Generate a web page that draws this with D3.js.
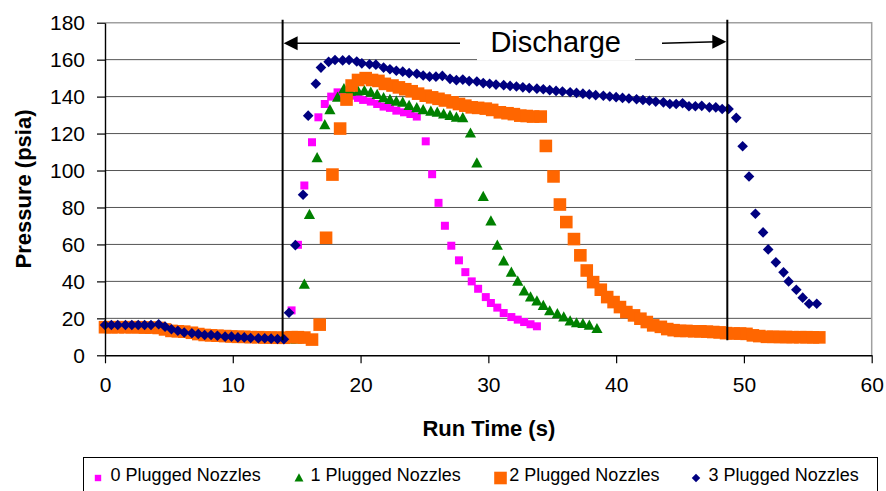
<!DOCTYPE html>
<html>
<head>
<meta charset="utf-8">
<script src="https://cdn.jsdelivr.net/npm/d3@7"></script>
<style>
  body { margin: 0; background: #fff; }
  svg { display: block; font-family: "Liberation Sans", Arial, sans-serif; }
</style>
</head>
<body>
<div id="chart"></div>
<script>
// Run time (s) vs pressure (psia)
const plugged0 = [
  [0.0, 14.6], [0.5, 14.6], [1.0, 14.6], [1.6, 14.5], [2.1, 14.5], [2.6, 14.4], [3.1, 14.3], [3.6, 14.2],
  [4.2, 14.0], [4.7, 13.4], [5.2, 12.8], [5.7, 12.4], [6.2, 12.0], [6.8, 11.6], [7.3, 11.2], [7.8, 10.8],
  [8.3, 10.5], [8.8, 10.3], [9.4, 10.1], [9.9, 9.9], [10.4, 9.8], [10.9, 9.7], [11.4, 9.6], [12.0, 9.5],
  [12.5, 9.4], [13.0, 9.3], [13.5, 9.2], [14.0, 9.1], [14.6, 24.3], [15.1, 59.8], [15.6, 91.9], [16.2, 115.3],
  [16.7, 128.8], [17.2, 136.0], [17.7, 140.0], [18.2, 142.3], [18.7, 141.5], [19.2, 140.5], [19.8, 139.3],
  [20.2, 138.2], [20.8, 137.3], [21.3, 136.0], [21.8, 134.6], [22.3, 133.9], [22.8, 132.4], [23.4, 131.5],
  [23.9, 130.6], [24.4, 129.2], [25.1, 115.8], [25.6, 98.0], [26.1, 82.5], [26.6, 70.1], [27.1, 59.3],
  [27.7, 51.4], [28.2, 45.0], [28.7, 40.0], [29.2, 36.0], [29.8, 31.5], [30.2, 28.3], [30.7, 25.8],
  [31.2, 22.9], [31.8, 20.7], [32.3, 19.3], [32.8, 18.0], [33.3, 16.8], [33.8, 15.7]
];

const plugged1 = [
  [0.0, 14.8], [0.5, 14.8], [1.0, 14.8], [1.6, 14.7], [2.1, 14.7], [2.6, 14.6], [3.1, 14.5], [3.6, 14.4],
  [4.2, 14.2], [4.7, 13.6], [5.2, 13.0], [5.7, 12.6], [6.2, 12.2], [6.8, 11.8], [7.3, 11.3], [7.8, 10.9],
  [8.3, 10.6], [8.8, 10.4], [9.4, 10.2], [9.9, 10.0], [10.4, 9.9], [10.9, 9.8], [11.4, 9.6], [12.0, 9.5],
  [12.5, 9.3], [13.0, 9.2], [13.5, 9.0], [14.0, 8.9], [14.5, 8.8], [15.0, 8.8], [15.6, 38.4], [16.0, 76.2],
  [16.6, 106.9], [17.2, 124.7], [17.6, 132.8], [18.2, 139.6], [18.7, 144.2], [19.2, 142.9], [19.8, 143.0],
  [20.3, 143.2], [20.8, 142.3], [21.3, 141.1], [21.8, 139.3], [22.3, 138.4], [22.8, 137.5], [23.3, 136.9],
  [23.8, 135.1], [24.4, 133.9], [24.9, 132.8], [25.5, 132.0], [26.0, 131.5], [26.5, 130.6], [27.0, 129.7],
  [27.5, 128.8], [28.0, 128.5], [28.6, 120.2], [29.1, 104.0], [29.6, 85.9], [30.2, 72.6], [30.7, 59.5],
  [31.2, 51.0], [31.8, 44.9], [32.3, 40.0], [32.8, 34.8], [33.3, 31.5], [33.8, 29.4], [34.3, 26.9],
  [34.8, 24.0], [35.4, 22.5], [35.9, 20.7], [36.4, 18.5], [36.9, 17.5], [37.4, 17.1], [37.9, 16.2], [38.5, 14.4]
];

const plugged2 = [
  [0.0, 15.2], [0.5, 15.2], [1.0, 15.2], [1.6, 15.2], [2.1, 15.2], [2.6, 15.2], [3.1, 15.0], [3.6, 15.0],
  [4.2, 14.8], [4.7, 14.0], [5.2, 13.2], [5.7, 13.0], [6.2, 12.8], [6.8, 12.2], [7.3, 11.5], [7.8, 11.0],
  [8.3, 10.8], [8.8, 10.6], [9.4, 10.4], [9.9, 10.2], [10.4, 10.0], [10.9, 10.0], [11.4, 9.8], [12.0, 9.8],
  [12.5, 9.6], [13.0, 9.6], [13.5, 9.5], [14.0, 9.5], [14.6, 9.8], [15.1, 9.8], [15.6, 9.6], [16.2, 8.5],
  [16.8, 16.6], [17.3, 63.6], [17.8, 97.8], [18.4, 122.7], [18.9, 138.4], [19.3, 146.0], [19.8, 149.0],
  [20.4, 150.0], [20.9, 149.0], [21.4, 148.5], [21.9, 146.9], [22.5, 146.0], [23.0, 145.0], [23.5, 144.0],
  [24.0, 142.9], [24.5, 141.6], [25.1, 140.5], [25.6, 139.6], [26.1, 138.8], [26.6, 137.9], [27.2, 136.9],
  [27.7, 136.0], [28.2, 135.1], [28.7, 134.2], [29.2, 133.9], [29.8, 133.5], [30.3, 132.8], [30.9, 131.5],
  [31.5, 131.0], [32.0, 130.5], [32.5, 129.7], [33.0, 129.5], [33.5, 129.2], [34.1, 129.2], [34.5, 113.3],
  [35.1, 96.8], [35.6, 81.6], [36.1, 72.1], [36.7, 62.9], [37.2, 54.1], [37.7, 45.9], [38.2, 39.6],
  [38.8, 35.5], [39.3, 31.5], [39.8, 28.8], [40.3, 26.1], [40.8, 23.4], [41.4, 21.6], [41.9, 19.8],
  [42.4, 18.0], [42.9, 16.2], [43.5, 15.4], [44.0, 14.2], [44.5, 13.6], [45.0, 13.2], [45.5, 13.2],
  [46.1, 13.0], [46.6, 13.0], [47.1, 12.8], [47.6, 12.6], [48.1, 12.4], [48.6, 12.0], [49.2, 11.8],
  [49.7, 11.8], [50.2, 11.6], [50.7, 10.8], [51.2, 10.4], [51.8, 10.0], [52.3, 10.0], [52.8, 9.9],
  [53.3, 9.9], [53.8, 9.8], [54.4, 9.8], [54.9, 9.8], [55.4, 9.7], [55.9, 9.7]
];

const plugged3 = [
  [0.0, 16.4], [0.5, 16.4], [1.0, 16.4], [1.6, 16.4], [2.1, 16.4], [2.6, 16.4], [3.1, 16.4], [3.6, 16.4],
  [4.2, 16.8], [4.7, 15.5], [5.2, 14.1], [5.7, 13.3], [6.2, 12.3], [6.8, 11.9], [7.3, 11.5], [7.8, 11.0],
  [8.3, 11.0], [8.8, 10.6], [9.4, 10.1], [9.9, 10.1], [10.4, 9.7], [10.9, 9.7], [11.4, 9.4], [12.0, 9.2],
  [12.5, 9.2], [13.0, 9.0], [13.5, 8.8], [14.0, 8.7], [14.4, 23.0], [14.9, 59.6], [15.5, 86.9], [15.9, 129.7],
  [16.5, 147.0], [16.9, 155.7], [17.5, 158.8], [18.0, 159.8], [18.6, 159.6], [19.1, 159.8], [19.7, 159.0],
  [20.1, 158.0], [20.7, 157.5], [21.2, 157.3], [21.8, 155.7], [22.3, 154.8], [22.8, 154.0], [23.3, 153.5],
  [23.8, 152.7], [24.4, 152.4], [24.9, 151.4], [25.4, 150.8], [25.9, 150.8], [26.4, 151.2], [27.0, 149.6],
  [27.5, 148.9], [28.0, 149.2], [28.5, 148.4], [29.1, 148.2], [29.6, 147.3], [30.1, 147.0], [30.6, 146.5],
  [31.2, 146.2], [31.7, 145.8], [32.2, 145.5], [32.7, 145.0], [33.2, 144.6], [33.8, 144.3], [34.3, 144.0],
  [34.8, 143.5], [35.3, 143.1], [35.8, 142.8], [36.4, 142.4], [36.9, 142.0], [37.4, 141.6], [37.9, 141.2],
  [38.4, 140.8], [39.0, 140.5], [39.5, 140.1], [40.0, 139.7], [40.5, 139.3], [41.0, 139.0], [41.6, 138.6],
  [42.1, 138.2], [42.6, 137.8], [43.1, 137.3], [43.7, 136.9], [44.2, 136.0], [44.7, 136.0], [45.2, 136.4],
  [45.7, 134.8], [46.2, 134.8], [46.7, 135.0], [47.3, 134.2], [47.8, 134.2], [48.3, 133.3], [48.8, 133.3],
  [49.4, 128.5], [49.9, 113.1], [50.4, 96.8], [50.9, 76.6], [51.5, 66.5], [51.9, 57.3], [52.5, 50.3],
  [53.1, 44.9], [53.5, 40.0], [54.1, 35.5], [54.6, 31.2], [55.1, 27.9], [55.7, 27.9]
];

const seriesNames = ['0 Plugged Nozzles', '1 Plugged Nozzles', '2 Plugged Nozzles', '3 Plugged Nozzles'];
const seriesColors = ['#ff00ff', '#008000', '#ff6600', '#000080'];
const seriesShapes = ['smallSquare', 'triangle', 'bigSquare', 'diamond'];
const seriesData = [plugged0, plugged1, plugged2, plugged3];

const xTicks = [0, 10, 20, 30, 40, 50, 60];
const yTicks = [0, 20, 40, 60, 80, 100, 120, 140, 160, 180];

// discharge window (s)
const dischargeStart = 13.9;
const dischargeEnd = 48.7;

const width = 886, height = 491;
const plot = { left: 105, right: 871.7, top: 22.7, bottom: 355.3 };

const svg = d3.select('#chart').append('svg')
  .attr('width', width)
  .attr('height', height);

const x = d3.scaleLinear().domain([0, 60]).range([plot.left, plot.right]);
const y = d3.scaleLinear().domain([0, 180]).range([plot.bottom, plot.top]);

// gridlines
svg.append('g')
  .selectAll('line')
  .data(yTicks.filter(d => d > 0 && d < 180))
  .join('line')
  .attr('x1', plot.left).attr('x2', plot.right)
  .attr('y1', d => y(d)).attr('y2', d => y(d))
  .attr('stroke', '#555').attr('stroke-width', 1);

// plot area border (top & right)
svg.append('path')
  .attr('d', `M${plot.left},${plot.top}H${plot.right}V${plot.bottom}`)
  .attr('fill', 'none').attr('stroke', '#a0a0a0').attr('stroke-width', 1.5);

// marker shapes
function markerPath(shape) {
  if (shape === 'smallSquare') return 'M-4,-4H4V4H-4Z';
  if (shape === 'bigSquare') return 'M-6.3,-6.3H6.3V6.3H-6.3Z';
  if (shape === 'triangle') return 'M0,-5.8L5.6,4.4H-5.6Z';
  return 'M0,-5.3L5.3,0L0,5.3L-5.3,0Z';
}

seriesData.forEach((data, i) => {
  svg.append('g')
    .selectAll('path')
    .data(data)
    .join('path')
    .attr('d', markerPath(seriesShapes[i]))
    .attr('transform', d => `translate(${x(d[0])},${y(d[1])})`)
    .attr('fill', seriesColors[i]);
});

// axes
const xAxis = svg.append('g')
  .attr('transform', `translate(0,${plot.bottom})`)
  .call(d3.axisBottom(x).tickValues(xTicks).tickSize(8).tickPadding(14).tickSizeOuter(0));
const yAxis = svg.append('g')
  .attr('transform', `translate(${plot.left},0)`)
  .call(d3.axisLeft(y).tickValues(yTicks).tickSize(8).tickPadding(12).tickSizeOuter(0));

[xAxis, yAxis].forEach(g => {
  g.select('.domain').attr('stroke', '#000').attr('stroke-width', 1.4);
  g.selectAll('.tick line').attr('stroke', '#000').attr('stroke-width', 1.2);
  g.selectAll('.tick text')
    .attr('fill', '#000')
    .style('font-size', '21px')
    .style('font-family', '"Liberation Sans", Arial, sans-serif');
});

// axis titles
svg.append('text')
  .attr('x', (plot.left + plot.right) / 2 + 0.5)
  .attr('y', 436)
  .attr('text-anchor', 'middle')
  .style('font-size', '22px').style('font-weight', 'bold')
  .text('Run Time (s)');

svg.append('text')
  .attr('transform', `translate(31,${(plot.top + plot.bottom) / 2}) rotate(-90)`)
  .attr('text-anchor', 'middle')
  .style('font-size', '22px').style('font-weight', 'bold')
  .text('Pressure (psia)');

// discharge annotation
const ann = svg.append('g');
const lineTop = plot.top - 3;
const lineBottom = y(8.2);
[dischargeStart, dischargeEnd].forEach(t => {
  ann.append('line')
    .attr('x1', x(t)).attr('x2', x(t))
    .attr('y1', lineTop).attr('y2', lineBottom)
    .attr('stroke', '#000').attr('stroke-width', 2);
});

const arrowY = 43.3;
ann.append('rect')
  .attr('x', 477).attr('y', 25).attr('width', 158).attr('height', 35.5)
  .attr('fill', '#fff');
ann.append('text')
  .attr('x', 555.7).attr('y', 52.3)
  .attr('text-anchor', 'middle')
  .style('font-size', '29px')
  .text('Discharge');

// left arrow
const xs = x(dischargeStart), xe = x(dischargeEnd);
ann.append('line')
  .attr('x1', 460).attr('x2', xs + 10).attr('y1', arrowY).attr('y2', arrowY)
  .attr('stroke', '#000').attr('stroke-width', 1.6);
ann.append('path')
  .attr('d', `M${xs + 1},${arrowY}L${xs + 15},${arrowY - 7}L${xs + 15},${arrowY + 7}Z`)
  .attr('fill', '#000');
// right arrow
ann.append('line')
  .attr('x1', 662).attr('x2', xe - 10).attr('y1', arrowY).attr('y2', arrowY - 1.5)
  .attr('stroke', '#000').attr('stroke-width', 1.6);
ann.append('path')
  .attr('d', `M${xe - 1},${arrowY - 1.6}L${xe - 15},${arrowY - 8.6}L${xe - 15},${arrowY + 5.4}Z`)
  .attr('fill', '#000');

// legend
const legend = svg.append('g');
legend.append('rect')
  .attr('x', 83.5).attr('y', 457.5).attr('width', 794).attr('height', 40)
  .attr('fill', '#fff').attr('stroke', '#000').attr('stroke-width', 1);

const legendMarkerX = [98, 299, 500.5, 696];
const legendTextX = [110.6, 310.6, 509.3, 708.6];
seriesNames.forEach((name, i) => {
  const scale = seriesShapes[i] === 'bigSquare' ? 1 : 0.8;
  legend.append('path')
    .attr('d', markerPath(seriesShapes[i]))
    .attr('transform', `translate(${legendMarkerX[i]},478) scale(${scale})`)
    .attr('fill', seriesColors[i]);
  legend.append('text')
    .attr('x', legendTextX[i]).attr('y', 481)
    .style('font-size', '18px')
    .text(name);
});
</script>
</body>
</html>
